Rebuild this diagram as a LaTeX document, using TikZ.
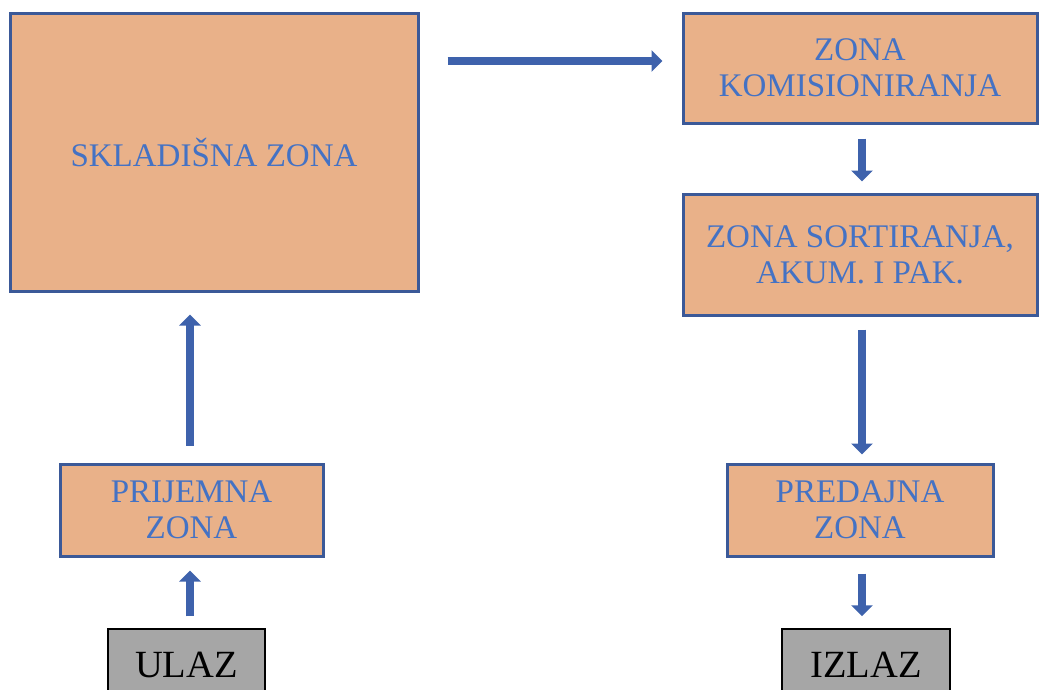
\documentclass[tikz,border=0pt]{standalone}
\usepackage{fontspec}
\setmainfont{Liberation Serif}
\usetikzlibrary{arrows.meta}
\definecolor{peach}{RGB}{233,177,137}
\definecolor{edgeblue}{RGB}{59,89,152}
\definecolor{txtblue}{RGB}{68,114,196}
\definecolor{arrblue}{RGB}{62,98,172}
\definecolor{boxgray}{RGB}{166,166,166}
\begin{document}
\begin{tikzpicture}[x=1pt,y=-1pt,
  zone/.style={draw=edgeblue,line width=3pt,fill=peach,text=txtblue,align=center,
    font=\fontsize{33}{36}\selectfont,inner sep=0pt},
  term/.style={draw=black,line width=1.5pt,fill=boxgray,text=black,
    font=\fontsize{38.5}{40}\selectfont,inner sep=0pt},
  flow/.style={arrblue,line width=8pt,-{Triangle[width=21pt,length=11pt]}}]
\useasboundingbox (0,0) rectangle (1041,689);
\clip (0,0) rectangle (1041,689);
\node[zone,minimum width=408pt,minimum height=278pt] (skl) at (214,152) {SKLADIŠNA ZONA};
\node[zone,minimum width=354pt,minimum height=110pt] (kom) at (860,68) {ZONA\\KOMISIONIRANJA};
\node[zone,minimum width=354pt,minimum height=121pt] (sor) at (860,254.5) {ZONA SORTIRANJA,\\AKUM. I PAK.};
\node[zone,minimum width=263pt,minimum height=92pt] (pri) at (191.5,510) {PRIJEMNA\\ZONA};
\node[zone,minimum width=266pt,minimum height=92pt] (pre) at (860,510) {PREDAJNA\\ZONA};
\node[term,minimum width=157pt,minimum height=72pt] (ulaz) at (186.5,665) {ULAZ};
\node[term,minimum width=168pt,minimum height=72pt] (izlaz) at (866,665) {IZLAZ};
\coordinate (h) at (0,61);
\coordinate (vl) at (190,0);
\coordinate (vr) at (862,0);
\draw[flow,shorten <=28pt,shorten >=19pt] (skl.east |- h) -- (kom.west |- h);
\draw[flow,shorten <=17pt,shorten >=22pt] (pri.north -| vl) -- (skl.south -| vl);
\draw[flow,shorten <=12pt,shorten >=13pt] (ulaz.north -| vl) -- (pri.south -| vl);
\draw[flow,shorten <=14pt,shorten >=11pt] (kom.south -| vr) -- (sor.north -| vr);
\draw[flow,shorten <=13pt,shorten >=8pt] (sor.south -| vr) -- (pre.north -| vr);
\draw[flow,shorten <=16pt,shorten >=12pt] (pre.south -| vr) -- (izlaz.north -| vr);
\end{tikzpicture}
\end{document}
